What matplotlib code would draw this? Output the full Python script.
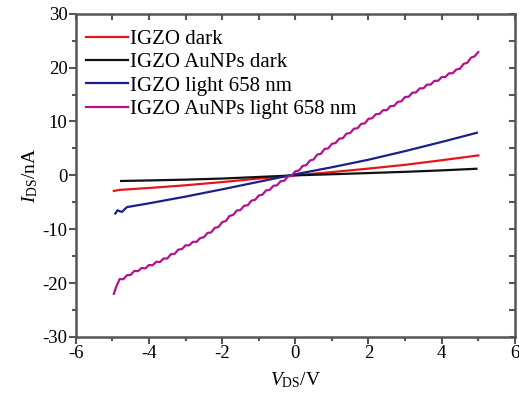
import matplotlib
matplotlib.use("Agg")
import matplotlib.pyplot as plt
from matplotlib.ticker import MultipleLocator

plt.rcParams["font.family"] = ["Liberation Serif", "DejaVu Serif"]
plt.rcParams["mathtext.fontset"] = "custom"
plt.rcParams["mathtext.rm"] = "Liberation Serif"
plt.rcParams["mathtext.it"] = "Liberation Serif:italic"
plt.rcParams["axes.unicode_minus"] = False

# Data (V in volts, I in nA)
labels = ["IGZO dark", "IGZO AuNPs dark", "IGZO light 658 nm", "IGZO AuNPs light 658 nm"]
colors = ["#e8141a", "#111111", "#1c1f8a", "#b5108e"]

v_dark = [-4.96, -4.8, -4, -3, -2, -1, 0, 1, 2, 3, 4, 5]
i_dark = [-2.9, -2.7, -2.35, -1.85, -1.25, -0.6, 0, 0.6, 1.25, 1.95, 2.8, 3.7]

v_au_dark = [-4.76, -4, -3, -2, -1, 0, 1, 2, 3, 4, 4.95]
i_au_dark = [-1.05, -0.95, -0.8, -0.6, -0.3, 0, 0.2, 0.42, 0.65, 0.92, 1.22]

v_light = [-4.92, -4.86, -4.74, -4.6, -4, -3, -2, -1, 0, 1, 2, 3, 4, 4.96]
i_light = [-7.1, -6.5, -6.8, -5.9, -5.2, -3.95, -2.6, -1.2, 0.2, 1.5, 2.9, 4.5, 6.2, 7.9]

v_au_light = [-4.96, -4.9, -4.8, -4.7, -4.6, -4.5, -4.4, -4.3, -4.2, -4.1, -4.0,
              -3.9, -3.8, -3.7, -3.6, -3.5, -3.4, -3.3, -3.2, -3.1, -3.0,
              -2.9, -2.8, -2.7, -2.6, -2.5, -2.4, -2.3, -2.2, -2.1, -2.0,
              -1.9, -1.8, -1.7, -1.6, -1.5, -1.4, -1.3, -1.2, -1.1, -1.0,
              -0.9, -0.8, -0.7, -0.6, -0.5, -0.4, -0.3, -0.2, -0.1, 0.0,
              0.1, 0.2, 0.3, 0.4, 0.5, 0.6, 0.7, 0.8, 0.9, 1.0,
              1.1, 1.2, 1.3, 1.4, 1.5, 1.6, 1.7, 1.8, 1.9, 2.0,
              2.1, 2.2, 2.3, 2.4, 2.5, 2.6, 2.7, 2.8, 2.9, 3.0,
              3.1, 3.2, 3.3, 3.4, 3.5, 3.6, 3.7, 3.8, 3.9, 4.0,
              4.1, 4.2, 4.3, 4.4, 4.5, 4.6, 4.7, 4.8, 4.9, 5.0]
i_au_light = [-22.0, -20.8, -19.25, -19.3, -18.55, -18.5, -17.75, -17.8, -17.2, -17.3, -16.65,
              -16.7, -16.05, -16.1, -15.45, -15.45, -14.65, -14.6, -13.8, -13.7, -13.0,
              -13.0, -12.35, -12.35, -11.65, -11.5, -10.7, -10.6, -9.75, -9.6, -8.7,
              -8.5, -7.55, -7.35, -6.55, -6.45, -5.65, -5.55, -4.7, -4.55, -3.75,
              -3.6, -2.8, -2.7, -1.95, -1.85, -1.1, -1.0, -0.2, -0.1, 0.75,
              0.9, 1.75, 1.9, 2.75, 2.95, 3.85, 4.0, 4.9, 5.0, 5.85,
              6.0, 6.8, 6.9, 7.75, 7.85, 8.65, 8.75, 9.55, 9.65, 10.5,
              10.6, 11.35, 11.4, 12.1, 12.1, 12.85, 12.9, 13.65, 13.75, 14.55,
              14.6, 15.35, 15.4, 16.15, 16.15, 16.85, 16.85, 17.55, 17.55, 18.25,
              18.25, 18.95, 18.95, 19.65, 19.8, 20.7, 20.9, 21.85, 22.1, 22.9]

series = [(v_dark, i_dark), (v_au_dark, i_au_dark), (v_light, i_light), (v_au_light, i_au_light)]

fig = plt.figure(figsize=(5.19, 3.94), dpi=100)
ax = fig.add_axes([0.146, 0.145, 0.846, 0.82])

for (v, i), lab, c in zip(series, labels, colors):
    ax.plot(v, i, color=c, lw=1.6, label=lab)

ax.set_xlim(-6, 6)
ax.set_ylim(-30, 30)
ax.xaxis.set_major_locator(MultipleLocator(2))
ax.xaxis.set_minor_locator(MultipleLocator(1))
ax.yaxis.set_major_locator(MultipleLocator(10))
ax.yaxis.set_minor_locator(MultipleLocator(5))

spine_c = "#555555"
for s in ax.spines.values():
    s.set_color(spine_c)
    s.set_linewidth(1.8)

ax.tick_params(which="both", direction="out", color=spine_c, width=1.5,
               labelsize=13.5, top=False, right=False, pad=1)
ax.tick_params(which="major", length=5)
ax.tick_params(which="minor", length=3)

# inward mirror ticks on the top and right edges
sec_x = ax.secondary_xaxis("top")
sec_x.xaxis.set_major_locator(MultipleLocator(1))
sec_x.tick_params(direction="in", length=4, width=1.5, color=spine_c, labeltop=False)
sec_x.spines["top"].set_visible(False)
sec_y = ax.secondary_yaxis("right")
sec_y.yaxis.set_major_locator(MultipleLocator(5))
sec_y.tick_params(direction="in", length=4, width=1.5, color=spine_c, labelright=False)
sec_y.spines["right"].set_visible(False)

ax.set_xlabel(r"$V_{\rm DS}$/V", fontsize=14, labelpad=6)
ax.set_ylabel(r"$I_{\rm DS}$/nA", fontsize=14, labelpad=2)

ax.legend(loc="upper left", fontsize=15, frameon=False, handlelength=2.0,
          handletextpad=0.1, labelspacing=0.18, borderaxespad=0.1,
          bbox_to_anchor=(0.0, 0.984))

fig.savefig("out.png", dpi=100)
